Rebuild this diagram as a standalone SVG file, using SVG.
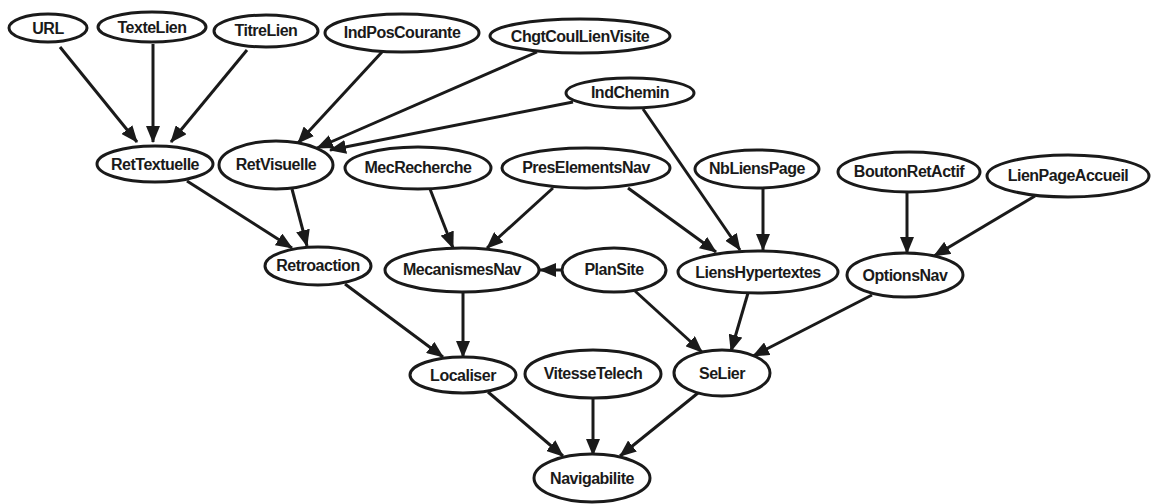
<svg xmlns="http://www.w3.org/2000/svg" width="1152" height="504" viewBox="0 0 1152 504">
  <style>
    .node ellipse { fill: #ffffff; stroke: #1a1a1a; stroke-width: 3; }
    .node text { font-family: "Liberation Sans", Arial, sans-serif; font-size: 16px; font-weight: bold; letter-spacing: -0.5px; fill: #1a1a1a; text-anchor: middle; dominant-baseline: central; }
    #edges line { stroke: #1a1a1a; stroke-width: 3; marker-end: url(#arrow); }
  </style>
  <defs>
    <marker id="arrow" markerUnits="userSpaceOnUse" markerWidth="17" markerHeight="14" refX="16" refY="7" orient="auto">
      <path d="M0,0 L17,7 L0,14 z" fill="#1a1a1a"/>
    </marker>
  </defs>
  <rect width="1152" height="504" fill="#ffffff"/>

  <g id="edges">
    <line x1="60" y1="47" x2="137" y2="142"/>
    <line x1="153" y1="44" x2="153" y2="142"/>
    <line x1="247" y1="50" x2="171" y2="142"/>
    <line x1="382" y1="52" x2="298" y2="143"/>
    <line x1="537" y1="52" x2="317" y2="148"/>
    <line x1="573" y1="102" x2="330" y2="150"/>
    <line x1="643" y1="109" x2="740" y2="250"/>
    <line x1="187" y1="181" x2="292" y2="248"/>
    <line x1="292" y1="189" x2="307" y2="246"/>
    <line x1="430" y1="189" x2="453" y2="248"/>
    <line x1="553" y1="188" x2="487" y2="248"/>
    <line x1="628" y1="188" x2="716" y2="252"/>
    <line x1="763" y1="187" x2="763" y2="250"/>
    <line x1="907" y1="192" x2="907" y2="253"/>
    <line x1="1035" y1="196" x2="934" y2="256"/>
    <line x1="562" y1="270" x2="540" y2="270"/>
    <line x1="345" y1="284" x2="443" y2="357"/>
    <line x1="463" y1="292" x2="463" y2="357"/>
    <line x1="635" y1="291" x2="702" y2="352"/>
    <line x1="748" y1="293" x2="731" y2="351"/>
    <line x1="872" y1="295" x2="753" y2="356"/>
    <line x1="488" y1="392" x2="563" y2="456"/>
    <line x1="593" y1="398" x2="593" y2="455"/>
    <line x1="698" y1="393" x2="620" y2="456"/>
  </g>

  <g id="URL" class="node"><ellipse cx="48" cy="28" rx="39" ry="14"/><text x="48" y="28">URL</text></g>
  <g id="TexteLien" class="node"><ellipse cx="152" cy="27" rx="54" ry="15"/><text x="152" y="27">TexteLien</text></g>
  <g id="TitreLien" class="node"><ellipse cx="266" cy="31" rx="52" ry="16"/><text x="266" y="30">TitreLien</text></g>
  <g id="IndPosCourante" class="node"><ellipse cx="402" cy="33" rx="77" ry="19"/><text x="402" y="32">IndPosCourante</text></g>
  <g id="ChgtCoulLienVisite" class="node"><ellipse cx="580" cy="36" rx="90" ry="17"/><text x="580" y="36">ChgtCoulLienVisite</text></g>
  <g id="IndChemin" class="node"><ellipse cx="630" cy="93" rx="64" ry="15"/><text x="630" y="92">IndChemin</text></g>
  <g id="RetTextuelle" class="node"><ellipse cx="155" cy="164" rx="58" ry="18"/><text x="155" y="164">RetTextuelle</text></g>
  <g id="RetVisuelle" class="node"><ellipse cx="276" cy="165" rx="57" ry="24"/><text x="276" y="164">RetVisuelle</text></g>
  <g id="MecRecherche" class="node"><ellipse cx="418" cy="168" rx="73" ry="21"/><text x="418" y="167">MecRecherche</text></g>
  <g id="PresElementsNav" class="node"><ellipse cx="586" cy="168" rx="84" ry="20"/><text x="586" y="167">PresElementsNav</text></g>
  <g id="NbLiensPage" class="node"><ellipse cx="757" cy="169" rx="62" ry="19"/><text x="757" y="168">NbLiensPage</text></g>
  <g id="BoutonRetActif" class="node"><ellipse cx="909" cy="172" rx="71" ry="20"/><text x="909" y="171">BoutonRetActif</text></g>
  <g id="LienPageAccueil" class="node"><ellipse cx="1068" cy="176" rx="81" ry="21"/><text x="1068" y="175">LienPageAccueil</text></g>
  <g id="Retroaction" class="node"><ellipse cx="318" cy="266" rx="53" ry="19"/><text x="318" y="265">Retroaction</text></g>
  <g id="MecanismesNav" class="node"><ellipse cx="462" cy="270" rx="77" ry="22"/><text x="462" y="269">MecanismesNav</text></g>
  <g id="PlanSite" class="node"><ellipse cx="614" cy="270" rx="52" ry="22"/><text x="614" y="269">PlanSite</text></g>
  <g id="LiensHypertextes" class="node"><ellipse cx="758" cy="272" rx="80" ry="21"/><text x="758" y="272">LiensHypertextes</text></g>
  <g id="OptionsNav" class="node"><ellipse cx="905" cy="275" rx="58" ry="22"/><text x="905" y="275">OptionsNav</text></g>
  <g id="Localiser" class="node"><ellipse cx="463" cy="375" rx="53" ry="18"/><text x="463" y="375">Localiser</text></g>
  <g id="VitesseTelech" class="node"><ellipse cx="593" cy="374" rx="68" ry="24"/><text x="593" y="373">VitesseTelech</text></g>
  <g id="SeLier" class="node"><ellipse cx="722" cy="373" rx="48" ry="23"/><text x="722" y="373">SeLier</text></g>
  <g id="Navigabilite" class="node"><ellipse cx="592" cy="478" rx="58" ry="24"/><text x="592" y="478">Navigabilite</text></g>
</svg>
